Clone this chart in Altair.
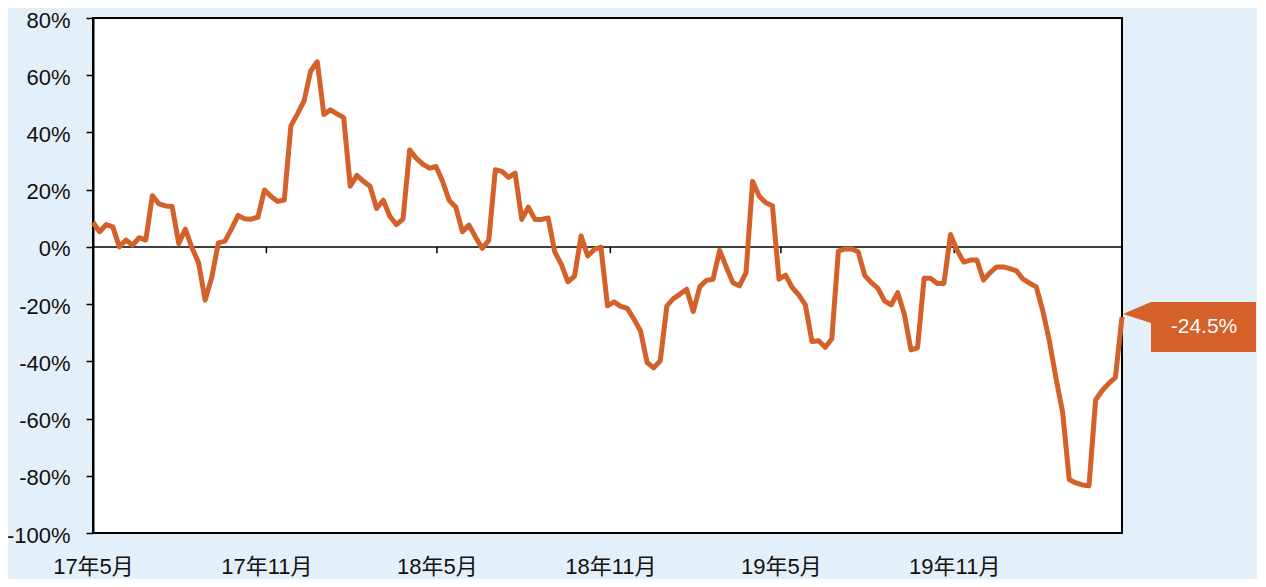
import altair as alt
import pandas as pd

# weekly series, first week starting 2017-05-01
start_date = "2017-05-01"
values = [
    8.6, 5.3, 7.8, 7.0, 0.0, 2.4, 0.6, 3.2, 2.4, 17.9,
    15.0, 14.3, 14.1, 1.2, 6.2, -0.3, -5.5, -18.6, -10.7, 1.4,
    2.0, 6.3, 11.0, 9.8, 9.7, 10.4, 19.9, 17.6, 15.9, 16.4,
    42.3, 46.5, 51.0, 61.5, 64.7, 46.3, 47.9, 46.5, 45.2, 21.2,
    25.0, 22.9, 21.2, 13.4, 16.3, 10.7, 7.8, 9.7, 33.9, 31.0,
    28.9, 27.5, 28.1, 22.9, 16.2, 13.9, 5.3, 7.6, 3.4, -0.5,
    2.3, 27.0, 26.4, 24.3, 25.8, 9.6, 13.9, 9.6, 9.6, 10.1,
    -1.7, -6.1, -12.2, -10.2, 3.8, -3.2, -0.9, -0.1, -20.6, -19.2,
    -20.8, -21.5, -25.2, -29.3, -40.4, -42.3, -39.8, -20.6, -18.1, -16.5,
    -14.8, -22.6, -13.9, -11.7, -11.3, -1.2, -7.0, -12.5, -13.6, -9.0,
    22.9, 17.7, 15.4, 14.4, -11.3, -9.9, -14.2, -16.8, -20.3, -33.1,
    -32.8, -35.1, -32.2, -1.5, -0.7, -0.7, -1.7, -10.0, -12.5, -14.5,
    -18.9, -20.3, -16.0, -23.5, -36.0, -35.3, -11.0, -11.0, -12.8, -12.8,
    4.3, -1.2, -5.3, -4.6, -4.6, -11.6, -9.0, -7.0, -7.0, -7.6,
    -8.4, -11.3, -12.7, -14.0, -22.4, -33.0, -46.0, -57.8, -81.3, -82.5,
    -83.2, -83.5, -53.5, -50.2, -47.7, -45.6, -24.5,
]
tick_dates = ["2017-05-01", "2017-11-01", "2018-05-01", "2018-11-01", "2019-05-01", "2019-11-01"]
y_ticks = [-100, -80, -60, -40, -20, 0, 20, 40, 60, 80]
callout_text = "-24.5%"

LINE = "#d4602a"
BG = "#e3f0f9"
FONT = "Liberation Sans, Arial, Noto Sans CJK SC, sans-serif"

dates = pd.date_range(start_date, periods=len(values), freq="7D")
df = pd.DataFrame({"date": dates, "value": values})
last = df.tail(1).assign(label=callout_text)
ticks_df = pd.DataFrame({"date": pd.to_datetime(tick_dates)})
zero_df = pd.DataFrame({"value": [0]})

x_scale = alt.Scale(domain=[dates[0].isoformat(), dates[-1].isoformat()], nice=False)
y_scale = alt.Scale(domain=[-100, 80], nice=False, zero=False)

x_enc = alt.X(
    "date:T",
    scale=x_scale,
    axis=alt.Axis(
        values=[alt.DateTime(year=int(d[:4]), month=int(d[5:7]), date=1) for d in tick_dates],
        labelExpr="timeFormat(datum.value, '%y') + '年' + (month(datum.value) + 1) + '月'",
        ticks=False,
        domain=False,
        grid=False,
        title=None,
        labelPadding=23,
        labelFont=FONT,
        labelFontSize=22,
        labelColor="#111111",
        labelOverlap=False,
        labelFlush=False,
    ),
)
y_enc = alt.Y(
    "value:Q",
    scale=y_scale,
    axis=alt.Axis(
        values=y_ticks,
        labelExpr="datum.value + '%'",
        grid=False,
        title=None,
        domainColor="black",
        domainWidth=2,
        tickColor="black",
        tickWidth=1.5,
        tickSize=7,
        labelPadding=16,
        labelOffset=2,
        labelFont=FONT,
        labelFontSize=22,
        labelColor="#111111",
    ),
)

zero_rule = alt.Chart(zero_df).mark_rule(color="black", strokeWidth=1.5).encode(
    y=alt.Y("value:Q", scale=y_scale)
)

tick_marks = alt.Chart(ticks_df).mark_rule(color="black", strokeWidth=1.5).encode(
    x=alt.X("date:T", scale=x_scale),
    y=alt.datum(0),
    y2=alt.datum(-2.2),
)

line = alt.Chart(df).mark_line(color=LINE, strokeWidth=5, strokeJoin="round").encode(
    x=x_enc, y=y_enc
)

box = alt.Chart(last).mark_rect(
    color=LINE, xOffset=29, x2Offset=134, yOffset=-15, y2Offset=35
).encode(
    x="date:T", x2="date:T", y="value:Q", y2="value:Q"
)

pointer = alt.Chart(last).mark_point(
    shape="M -1 0.07 L 1 -0.786 L 1 0.714 Z",
    filled=True, color=LINE, opacity=1, size=784, xOffset=15, yOffset=-4, strokeWidth=0,
).encode(x="date:T", y="value:Q")

label = alt.Chart(last).mark_text(
    color="white", font="Liberation Sans, Arial, sans-serif", fontSize=21,
    align="center", baseline="middle", dx=82, dy=10,
).encode(x="date:T", y="value:Q", text="label:N")

chart = (
    alt.layer(zero_rule, tick_marks, line, box, pointer, label)
    .properties(
        width=1029,
        height=515,
        autosize=alt.AutoSizeParams(type="none"),
        padding={"left": 85, "top": 10, "right": 135, "bottom": 46},
        background=BG,
    )
    .configure_view(fill="white", stroke="black", strokeWidth=2)
)

chart.save("out.html", embed_options={"renderer": "svg", "actions": False})
